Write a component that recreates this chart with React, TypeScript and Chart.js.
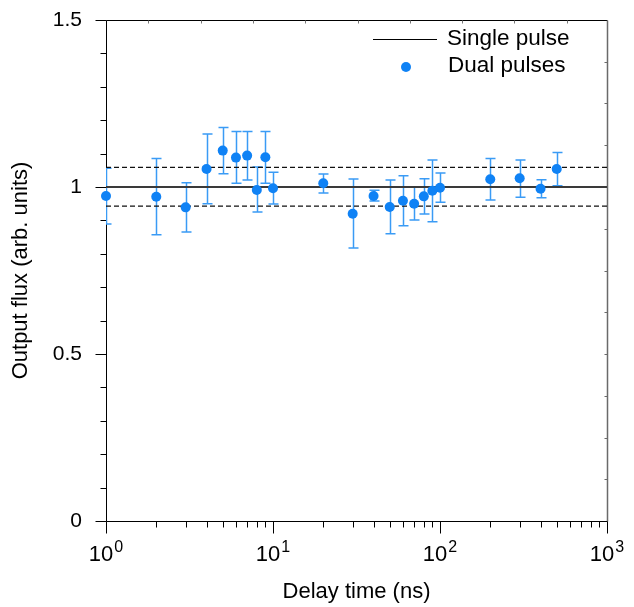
import { useEffect, useRef } from 'react';
import { Chart, registerables } from 'chart.js';

Chart.register(...registerables);

// ---- data ----
const delays = [1, 2, 3, 4, 5, 6, 7, 8, 9, 10, 20, 30, 40, 50, 60, 70, 80, 90, 100, 200, 300, 400, 500];
const flux = [0.973, 0.971, 0.939, 1.054, 1.109, 1.088, 1.094, 0.991, 1.089, 0.996, 1.011, 0.92, 0.973, 0.94, 0.959, 0.95, 0.972, 0.989, 0.998, 1.023, 1.026, 0.995, 1.054];
const fluxHigh = [1.056, 1.085, 1.013, 1.159, 1.178, 1.166, 1.166, 1.06, 1.166, 1.044, 1.039, 1.024, 0.99, 1.021, 1.034, 1.001, 1.025, 1.081, 1.042, 1.085, 1.081, 1.022, 1.103];
const fluxLow = [0.889, 0.857, 0.865, 0.95, 1.04, 1.011, 1.021, 0.925, 1.011, 0.949, 0.982, 0.817, 0.958, 0.86, 0.884, 0.901, 0.919, 0.896, 0.954, 0.961, 0.969, 0.968, 1.004];
const singlePulseLevel = 1;
const bandUpper = 1.059;
const bandLower = 0.943;
const xDecades = [1, 10, 100, 1000];
const xDecadeExponents = ['0', '1', '2', '3'];
const yMajorTicks = [0, 0.5, 1, 1.5];
const yTickLabels = ['0', '0.5', '1', '1.5'];
const xTitle = 'Delay time (ns)';
const yTitle = 'Output flux (arb. units)';
const legendLabels = ['Single pulse', 'Dual pulses'];

const FONT = '"Liberation Sans", Arial, Helvetica, sans-serif';
const DOT = '#0f82f5';
const BAR = '#3a9bf5';
const W = 634;
const H = 607;

const decorPlugin = {
  id: 'decor',
  beforeDatasetsDraw(chart: any) {
    const { ctx, chartArea: a, scales } = chart;
    const x = scales.x;
    const y = scales.y;
    const L = Math.round(a.left) + 0.5;
    const R = Math.round(a.right) + 0.5;
    const T = Math.round(a.top) + 0.5;
    const B = Math.round(a.bottom) + 0.5;
    ctx.save();

    // top border
    ctx.strokeStyle = '#000';
    ctx.lineWidth = 1;
    ctx.beginPath();
    ctx.moveTo(L, T);
    ctx.lineTo(R, T);
    ctx.stroke();
    // right border (grey)
    ctx.strokeStyle = '#6a6a6a';
    ctx.lineWidth = 1.5;
    ctx.beginPath();
    ctx.moveTo(R, T);
    ctx.lineTo(R, B);
    ctx.stroke();
    // right mirror ticks
    ctx.lineWidth = 1;
    ctx.beginPath();
    for (let k = 1; k < 12; k++) {
      const py = Math.round(y.getPixelForValue(k * 0.125)) + 0.5;
      ctx.moveTo(R, py);
      ctx.lineTo(R - 3, py);
    }
    ctx.stroke();
    // top mirror ticks
    ctx.strokeStyle = '#777';
    ctx.beginPath();
    const w = a.right - a.left;
    for (let k = 0; k < 9; k++) {
      const px = Math.round(a.left + 0.0845 * w + k * 0.1044 * w) + 0.5;
      ctx.moveTo(px, T);
      ctx.lineTo(px, T + 3);
    }
    ctx.stroke();

    // left axis
    ctx.strokeStyle = '#000';
    ctx.lineWidth = 1;
    ctx.beginPath();
    ctx.moveTo(L, T);
    ctx.lineTo(L, B);
    for (let k = 0; k <= 15; k++) {
      const v = k / 10;
      const py = Math.round(y.getPixelForValue(v)) + 0.5;
      const len = k % 5 === 0 ? 11 : 6;
      ctx.moveTo(L, py);
      ctx.lineTo(L - len, py);
    }
    // bottom axis
    ctx.moveTo(L, B);
    ctx.lineTo(R, B);
    xDecades.forEach((d, i) => {
      const px = Math.round(x.getPixelForValue(d)) + 0.5;
      ctx.moveTo(px, B);
      ctx.lineTo(px, B + 12);
      if (i < xDecades.length - 1) {
        for (let m = 2; m <= 9; m++) {
          const pm = Math.round(x.getPixelForValue(d * m)) + 0.5;
          ctx.moveTo(pm, B);
          ctx.lineTo(pm, B + 6);
        }
      }
    });
    ctx.stroke();

    // x tick labels (10^n)
    ctx.fillStyle = '#000';
    ctx.textBaseline = 'alphabetic';
    ctx.textAlign = 'left';
    xDecades.forEach((d, i) => {
      const px = x.getPixelForValue(d);
      ctx.font = `22px ${FONT}`;
      const wb = ctx.measureText('10').width;
      ctx.font = `16px ${FONT}`;
      const we = ctx.measureText(xDecadeExponents[i]).width;
      const sx = px - (wb + we + 1) / 2;
      const by = a.bottom + 40;
      ctx.font = `22px ${FONT}`;
      ctx.fillText('10', sx, by);
      ctx.font = `16px ${FONT}`;
      ctx.fillText(xDecadeExponents[i], sx + wb + 1, by - 9);
    });

    // legend
    ctx.strokeStyle = '#000';
    ctx.lineWidth = 1;
    ctx.beginPath();
    ctx.moveTo(a.left + 267, a.top + 19.5);
    ctx.lineTo(a.left + 331, a.top + 19.5);
    ctx.stroke();
    ctx.fillStyle = DOT;
    ctx.beginPath();
    ctx.arc(a.left + 300, a.top + 47, 5, 0, Math.PI * 2);
    ctx.fill();
    ctx.fillStyle = '#000';
    ctx.font = `22.5px ${FONT}`;
    ctx.textBaseline = 'middle';
    ctx.fillText(legendLabels[0], a.left + 341, a.top + 19);
    ctx.fillText(legendLabels[1], a.left + 342, a.top + 46);

    // error bars
    ctx.beginPath();
    ctx.rect(a.left, a.top, a.right - a.left, a.bottom - a.top);
    ctx.clip();
    ctx.strokeStyle = BAR;
    ctx.lineWidth = 1.5;
    ctx.beginPath();
    delays.forEach((d, i) => {
      const px = Math.round(x.getPixelForValue(d)) + 0.5;
      const yt = y.getPixelForValue(fluxHigh[i]);
      const yb = y.getPixelForValue(fluxLow[i]);
      ctx.moveTo(px, yt);
      ctx.lineTo(px, yb);
      ctx.moveTo(px - 5, yt);
      ctx.lineTo(px + 5, yt);
      ctx.moveTo(px - 5, yb);
      ctx.lineTo(px + 5, yb);
    });
    ctx.stroke();
    ctx.restore();
  },
};

export default function App() {
  const ref = useRef<HTMLCanvasElement>(null);
  useEffect(() => {
    document.body.style.margin = '0';
    document.body.style.overflow = 'hidden';
    const canvas = ref.current!;
    const lineDs = (level: number, dash: number[], width: number, color: string, label: string) => ({
      label,
      data: [
        { x: xDecades[0], y: level },
        { x: xDecades[xDecades.length - 1], y: level },
      ],
      showLine: true,
      borderColor: color,
      borderWidth: width,
      borderDash: dash,
      pointRadius: 0,
      pointHoverRadius: 0,
    });
    const chart = new Chart(canvas, {
      type: 'scatter',
      data: {
        datasets: [
          {
            label: legendLabels[1],
            data: delays.map((d, i) => ({ x: d, y: flux[i] })),
            backgroundColor: DOT,
            borderColor: DOT,
            borderWidth: 0,
            pointRadius: 5,
            pointHoverRadius: 5,
            clip: false,
          } as any,
          lineDs(singlePulseLevel, [], 2, '#3a3a3a', legendLabels[0]),
          lineDs(bandUpper, [5, 3], 1.3, '#111', 'upper'),
          lineDs(bandLower, [5, 3], 1.3, '#111', 'lower'),
        ],
      },
      options: {
        animation: false,
        responsive: false,
        devicePixelRatio: 1,
        events: [],
        layout: { padding: { top: 20, right: 27, left: 0, bottom: 0 } },
        plugins: { legend: { display: false }, tooltip: { enabled: false } },
        scales: {
          x: {
            type: 'logarithmic',
            position: 'bottom',
            min: xDecades[0],
            max: xDecades[xDecades.length - 1],
            grid: { display: false, drawTicks: false },
            border: { display: false },
            ticks: { display: false },
            title: {
              display: true,
              text: xTitle,
              color: '#000',
              font: { family: FONT, size: 22, lineHeight: 1 },
              padding: { top: 0, bottom: 4 },
            },
            afterFit: (s: any) => {
              s.height = 86;
              s.paddingLeft = 0;
              s.paddingRight = 0;
            },
          },
          y: {
            type: 'linear',
            min: 0,
            max: 1.5,
            grid: { display: false, drawTicks: false },
            border: { display: false },
            afterBuildTicks: (s: any) => {
              s.ticks = yMajorTicks.map((v) => ({ value: v }));
            },
            ticks: {
              padding: 24,
              color: '#000',
              font: { family: FONT, size: 21 },
              callback: (_v: any, i: number) => yTickLabels[i],
            },
            title: {
              display: true,
              text: yTitle,
              color: '#000',
              font: { family: FONT, size: 22, lineHeight: 1.14 },
              padding: { top: 8, bottom: 0 },
            },
            afterFit: (s: any) => {
              s.width = 106;
              s.paddingTop = 0;
              s.paddingBottom = 0;
            },
          },
        },
      } as any,
      plugins: [decorPlugin],
    });
    return () => chart.destroy();
  }, []);
  return (
    <div style={{ width: W, height: H }}>
      <canvas ref={ref} width={W} height={H} style={{ display: 'block' }} />
    </div>
  );
}
